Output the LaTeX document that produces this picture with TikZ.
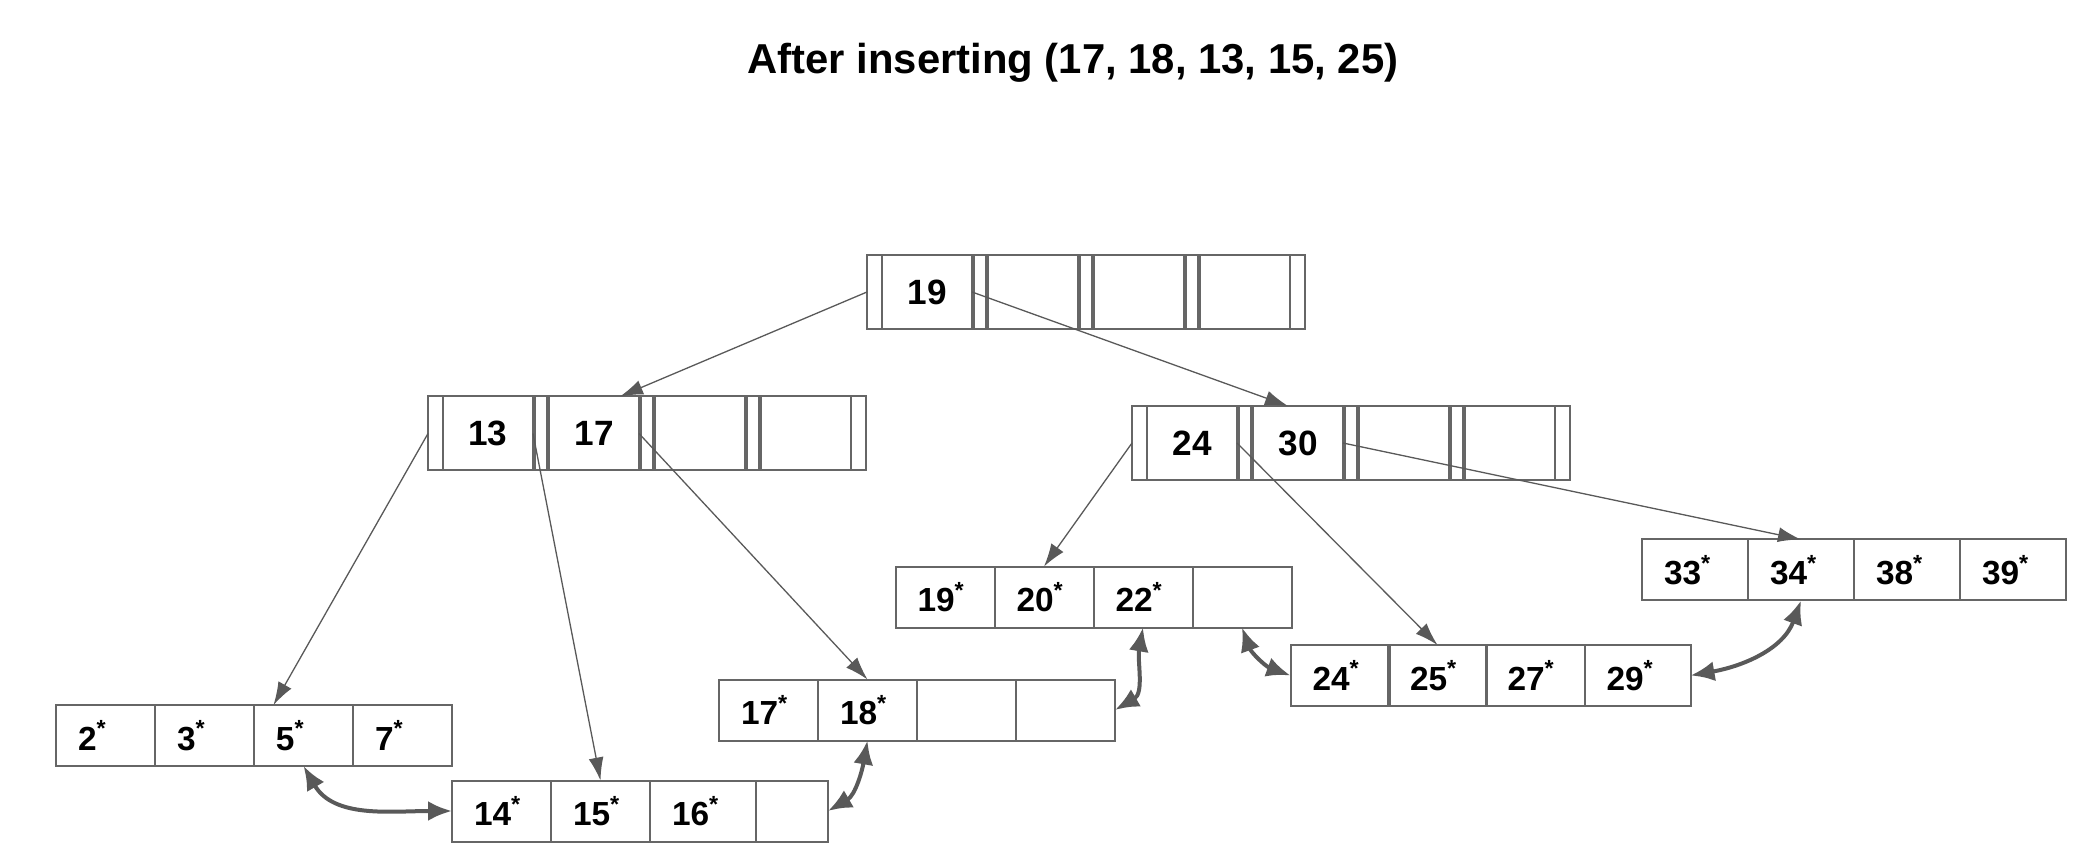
\documentclass[tikz,border=0pt]{standalone}
\usepackage{fontspec}
\setmainfont{Liberation Sans}
\usepackage{tikz}
\usetikzlibrary{fit,shapes,arrows.meta}
\definecolor{linegray}{RGB}{89,89,89}
\definecolor{boxgray}{RGB}{102,102,102}
\def\keyfont{\fontsize{10}{12}\selectfont\bfseries}
\def\leaffont{\fontsize{9.5}{11}\selectfont\bfseries}
\def\rec#1{#1\textsuperscript{*}}

\begin{document}
\begin{tikzpicture}[x=0.1mm, y=-0.1mm, >={Latex[length=2.3mm,width=1.5mm]}]
    \tikzstyle{every node} = [font=\bfseries, outer sep=0pt]
    \tikzstyle{cell} = [draw=boxgray, line width=0.2mm, inner sep=0pt]
    \tikzstyle{key} = [cell, minimum width=9mm, minimum height=7.4mm, font=\keyfont, node distance=10.6mm]
    \tikzstyle{ptr} = [cell, minimum width=1.2mm, minimum height=7.4mm, node distance=5.3mm]
    \tikzstyle{outer} = [cell, inner xsep=1.5mm, inner ysep=0pt]
    \tikzstyle{leaf} = [cell, minimum height=6.1mm, text width=5.5mm, inner xsep=2.2mm, align=left, font=\leaffont, node distance=9.9mm]
    \tikzstyle{wide} = [leaf, text width=6.2mm, node distance=10.6mm]
    \tikzstyle{conn} = [->, draw=linegray, line width=0.13mm]
    \tikzstyle{link} = [<->, draw=linegray, line width=0.4mm, >={Latex[length=2.4mm,width=2mm]}]

    \useasboundingbox (0,0) rectangle (2082,860);
    \node (title) at (1073,63) {\fontsize{11.9}{14}\selectfont After inserting (17, 18, 13, 15, 25)};

    % root
    \node (r1) [key] at (927,292) {19};
    \node (r2) [key, right of=r1] {};
    \node (r3) [key, right of=r2] {};
    \node (r4) [key, right of=r3] {};
    \node [ptr, right of=r1] {};
    \node [ptr, right of=r2] {};
    \node [ptr, right of=r3] {};
    \node (root) [outer, fit={(r1) (r4)}] {};

    % inner nodes
    \node (p1) [key] at (488,433.5) {13};
    \node (p2) [key, right of=p1] {17};
    \node (p3) [key, right of=p2] {};
    \node (p4) [key, right of=p3] {};
    \node [ptr, right of=p1] {};
    \node [ptr, right of=p2] {};
    \node [ptr, right of=p3] {};
    \node (left) [outer, fit={(p1) (p4)}] {};

    \node (q1) [key] at (1192,443) {24};
    \node (q2) [key, right of=q1] {30};
    \node (q3) [key, right of=q2] {};
    \node (q4) [key, right of=q3] {};
    \node [ptr, right of=q1] {};
    \node [ptr, right of=q2] {};
    \node [ptr, right of=q3] {};
    \node (right) [outer, fit={(q1) (q4)}] {};

    % leaves
    \node (a1) [leaf] at (105.5,735.5) {\rec{2}};
    \node (a2) [leaf, right of=a1] {\rec{3}};
    \node (a3) [leaf, right of=a2] {\rec{5}};
    \node (a4) [leaf, right of=a3] {\rec{7}};

    \node (b1) [leaf] at (501.5,811) {\rec{14}};
    \node (b2) [leaf, right of=b1] {\rec{15}};
    \node (b3) [leaf, text width=6.2mm, right of=b2, node distance=10.25mm] {\rec{16}};
    \node (b4) [leaf, text width=2.8mm, right of=b3, node distance=8.9mm] {};

    \node (c1) [leaf] at (768.5,710) {\rec{17}};
    \node (c2) [leaf, right of=c1] {\rec{18}};
    \node (c3) [leaf, right of=c2] {};
    \node (c4) [leaf, right of=c3] {};

    \node (d1) [leaf] at (945,597) {\rec{19}};
    \node (d2) [leaf, right of=d1] {\rec{20}};
    \node (d3) [leaf, right of=d2] {\rec{22}};
    \node (d4) [leaf, right of=d3] {};

    \node (e1) [leaf] at (1340,675.5) {\rec{24}};
    \node (e2) [leaf, right of=e1, node distance=9.75mm] {\rec{25}};
    \node (e3) [leaf, right of=e2, node distance=9.75mm] {\rec{27}};
    \node (e4) [leaf, text width=6.2mm, right of=e3, node distance=10.25mm] {\rec{29}};

    \node (f1) [wide] at (1695,570) {\rec{33}};
    \node (f2) [wide, right of=f1] {\rec{34}};
    \node (f3) [wide, right of=f2] {\rec{38}};
    \node (f4) [wide, right of=f3] {\rec{39}};

    % child pointers
    \draw [conn] (root.west) -- ([xshift=2.6mm]p2.north);
    \draw [conn] (r1.east) -- ([xshift=-1mm]q2.north);
    \draw [conn] (left.west) -- ([xshift=-3mm]a3.north);
    \draw [conn] (p1.east) -- (b2.north);
    \draw [conn] (p2.east) -- (c2.north);
    \draw [conn] (right.west) -- (d2.north);
    \draw [conn] (q1.east) -- (e2.north);
    \draw [conn] (q2.east) -- (f2.north);

    % sibling links
    \draw [link] (a3.south) to[out=-60, in=180] (b1.west);
    \draw [link] (b4.east) to[out=30, in=-100] (c2.south);
    \draw [link] (c4.east) to[out=30, in=-100] (d3.south);
    \draw [link] (d4.south) to[out=-70, in=160] (e1.west);
    \draw [link] (e4.east) to[out=10, in=-110] (f2.south);
\end{tikzpicture}
\end{document}
